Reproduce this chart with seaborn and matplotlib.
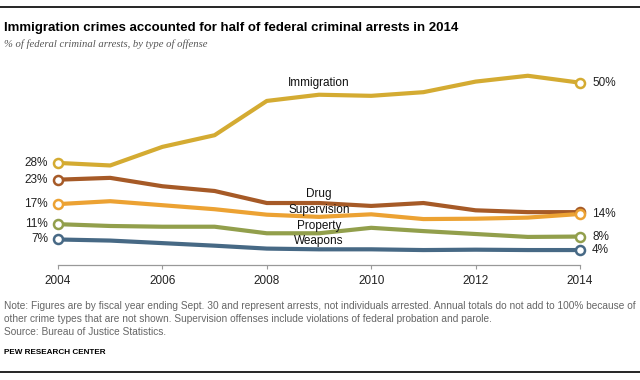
import pandas as pd
import seaborn as sns
import matplotlib.pyplot as plt

years = list(range(2004, 2015))

immigration = [28.0, 27.3, 32.4, 35.6, 45.0, 46.7, 46.4, 47.4, 50.3, 51.9, 50.0]
drug = [23.4, 23.9, 21.6, 20.3, 17.0, 17.0, 16.2, 17.0, 15.0, 14.5, 14.5]
supervision = [16.7, 17.5, 16.4, 15.3, 13.8, 13.2, 13.9, 12.6, 12.7, 13.0, 14.0]
prop = [11.2, 10.7, 10.5, 10.5, 8.7, 8.7, 10.2, 9.3, 8.5, 7.7, 7.8]
weapons = [7.0, 6.7, 6.0, 5.3, 4.5, 4.3, 4.3, 4.1, 4.2, 4.1, 4.1]

offenses = ['Weapons', 'Property', 'Drug', 'Supervision', 'Immigration']
series = [weapons, prop, drug, supervision, immigration]
start_labels = ['7%', '11%', '23%', '17%', '28%']
end_labels = ['4%', '8%', '', '14%', '50%']
# where the series names sit (x in years, y in %)
name_pos = {
    'Immigration': (2009.0, 50.0),
    'Drug': (2009.0, 19.4),
    'Supervision': (2009.0, 15.0),
    'Property': (2009.0, 10.8),
    'Weapons': (2009.0, 6.5),
}

colors = {
    'Immigration': '#d4ab32',
    'Drug': '#a65a27',
    'Supervision': '#eca233',
    'Property': '#929f4c',
    'Weapons': '#476985',
}

df = pd.DataFrame({
    'year': years * len(offenses),
    'pct': [v for s in series for v in s],
    'offense': [o for o in offenses for _ in years],
})

sns.set_style('white')
plt.rcParams['font.family'] = ['Liberation Sans', 'DejaVu Sans']

fig = plt.figure(figsize=(6.4, 3.8), dpi=100)
ax = fig.add_axes([58 / 640, (380 - 265) / 380, 522 / 640, 182.3 / 380])

sns.lineplot(data=df, x='year', y='pct', hue='offense', hue_order=offenses,
             palette=colors, linewidth=3, legend=False, ax=ax, clip_on=False)

for name, s, sl, el in zip(offenses, series, start_labels, end_labels):
    c = colors[name]
    ax.plot([years[0], years[-1]], [s[0], s[-1]], 'o', ms=6.5, mfc='white',
            mec=c, mew=1.8, clip_on=False, zorder=5)
    ax.text(years[0] - 0.19, s[0], sl, ha='right', va='center', fontsize=8.5,
            color='#222222')
    if el:
        ax.text(years[-1] + 0.23, s[-1], el, ha='left', va='center',
                fontsize=8.5, color='#222222')
    nx, ny = name_pos[name]
    ax.text(nx, ny, name, ha='center', va='center', fontsize=8.5,
            color='#111111')

ax.set_xlim(2004, 2014)
ax.set_ylim(0, 50)
ax.set_xticks([2004, 2006, 2008, 2010, 2012, 2014])
ax.set_yticks([])
ax.set_xlabel('')
ax.set_ylabel('')
for side in ['top', 'left', 'right']:
    ax.spines[side].set_visible(False)
ax.spines['bottom'].set_color('#999999')
ax.spines['bottom'].set_linewidth(0.9)
ax.tick_params(axis='x', direction='out', length=3, color='#999999',
               labelsize=8.5, labelcolor='#222222', pad=4, bottom=True)

# header and footer
fig.add_artist(plt.Line2D([0, 1], [1 - 7 / 380, 1 - 7 / 380], color='black', lw=1.2))
fig.add_artist(plt.Line2D([0, 1], [1 - 372 / 380, 1 - 372 / 380], color='black', lw=1.2))
fig.text(4 / 640, 1 - 28 / 380, 'Immigration crimes accounted for half of federal criminal arrests in 2014',
         fontsize=9.5, fontweight='bold', va='center', color='black')
fig.text(4 / 640, 1 - 44.5 / 380, '% of federal criminal arrests, by type of offense',
         fontsize=7.7, style='italic', family=['Liberation Serif'], va='center',
         color='#555555')
note = ('Note: Figures are by fiscal year ending Sept. 30 and represent arrests, not individuals arrested. '
        'Annual totals do not add to 100% because of\n'
        'other crime types that are not shown. Supervision offenses include violations of federal '
        'probation and parole.\nSource: Bureau of Justice Statistics.')
fig.text(4 / 640, 1 - 301 / 380, note, fontsize=7.3, va='top', linespacing=1.4,
         color='#666666')
fig.text(4 / 640, 1 - 352 / 380, 'PEW RESEARCH CENTER', fontsize=5.9, fontweight='bold',
         va='center', color='black')

fig.savefig('out.png', dpi=100)
